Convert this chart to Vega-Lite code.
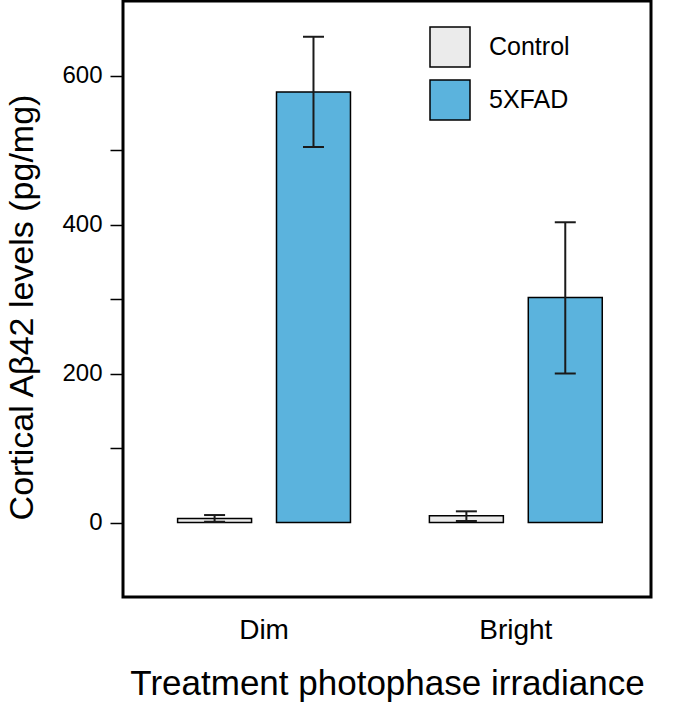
{
  "$schema": "https://vega.github.io/schema/vega-lite/v6.json",
  "width": 528,
  "height": 596,
  "autosize": {"type": "none"},
  "padding": {"left": 123, "top": 1, "right": 34, "bottom": 109},
  "background": "white",
  "config": {
    "view": {"stroke": "black", "strokeWidth": 3},
    "font": "Liberation Sans",
    "axis": {"labelColor": "black", "titleColor": "black", "titleFontWeight": "normal", "grid": false}
  },
  "data": {
    "values": [
      {"irr": "Dim", "geno": "Control", "mean": 5.5, "lo": 1, "hi": 10},
      {"irr": "Dim", "geno": "5XFAD", "mean": 578, "lo": 504, "hi": 652},
      {"irr": "Bright", "geno": "Control", "mean": 9, "lo": 2, "hi": 15},
      {"irr": "Bright", "geno": "5XFAD", "mean": 302, "lo": 200, "hi": 403}
    ]
  },
  "encoding": {
    "x": {
      "field": "irr", "type": "nominal", "sort": ["Dim", "Bright"],
      "scale": {"paddingInner": 0, "paddingOuter": 0.0485, "align": 0.62},
      "title": "Treatment photophase irradiance",
      "axis": {"labelAngle": 0, "domain": false, "ticks": false, "labelFontSize": 28, "labelPadding": 19, "titleFontSize": 35, "titlePadding": 22}
    },
    "xOffset": {
      "field": "geno", "type": "nominal", "sort": ["Control", "5XFAD"],
      "scale": {"paddingInner": 0.252, "paddingOuter": 0.399}
    }
  },
  "layer": [
    {
      "mark": {"type": "bar", "stroke": "black", "strokeWidth": 1.5},
      "encoding": {
        "y": {
          "field": "mean", "type": "quantitative",
          "scale": {"domain": [-100, 700], "nice": false, "zero": false},
          "title": "Cortical Aβ42 levels (pg/mg)",
          "axis": {
            "values": [0, 100, 200, 300, 400, 500, 600],
            "labelExpr": "datum.value % 200 == 0 ? datum.label : ''",
            "domain": false, "tickColor": "black", "tickWidth": 1.5, "tickSize": 13,
            "labelFontSize": 24, "labelPadding": 8, "titleFontSize": 34, "titlePadding": 22,
            "titleY": 306
          }
        },
        "y2": {"datum": 0},
        "color": {
          "field": "geno", "type": "nominal",
          "scale": {"domain": ["Control", "5XFAD"], "range": ["#EBEBEB", "#5BB3DD"]},
          "legend": {
            "orient": "none", "legendX": 306, "legendY": 25, "title": null,
            "symbolType": "square", "symbolSize": 1600, "symbolStrokeColor": "black",
            "symbolStrokeWidth": 1.5, "symbolOpacity": 1, "labelFontSize": 25,
            "labelOffset": 18, "rowPadding": 7, "labelColor": "black"
          }
        }
      }
    },
    {
      "mark": {"type": "rule", "color": "#1a1a1a", "strokeWidth": 2},
      "encoding": {
        "y": {"field": "lo", "type": "quantitative"},
        "y2": {"field": "hi"}
      }
    },
    {
      "mark": {"type": "tick", "color": "#1a1a1a", "thickness": 2, "size": 21, "opacity": 1},
      "encoding": {"y": {"field": "lo", "type": "quantitative"}}
    },
    {
      "mark": {"type": "tick", "color": "#1a1a1a", "thickness": 2, "size": 21, "opacity": 1},
      "encoding": {"y": {"field": "hi", "type": "quantitative"}}
    }
  ]
}
